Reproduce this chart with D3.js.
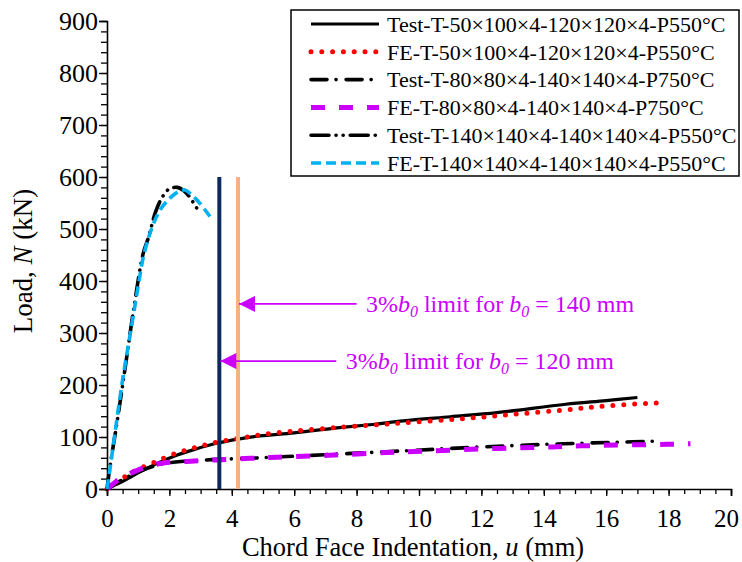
<!DOCTYPE html>
<html><head><meta charset="utf-8">
<script src="https://cdn.jsdelivr.net/npm/d3@7"></script>
<style>body{margin:0;background:#fff}svg{display:block}text{font-family:"Liberation Serif","Times New Roman",serif}</style>
</head><body><svg id="c" width="742" height="562"></svg>
<script>
// ---------- data ----------
const xTicks = [0,2,4,6,8,10,12,14,16,18,20];
const yTicks = [0,100,200,300,400,500,600,700,800,900];
const seriesNames = [
  "Test-T-50×100×4-120×120×4-P550°C",
  "FE-T-50×100×4-120×120×4-P550°C",
  "Test-T-80×80×4-140×140×4-P750°C",
  "FE-T-80×80×4-140×140×4-P750°C",
  "Test-T-140×140×4-140×140×4-P550°C",
  "FE-T-140×140×4-140×140×4-P550°C"
];
const test50 = [[0,0],[0.3,9],[0.58,17],[1.06,33],[1.49,46],[2.23,65],[2.9,78],[3.51,88],[4.2,96],[4.9,102],[6,108],[7.3,117],[8.5,124],[9.5,131],[11,139],[12.5,147],[14.7,163],[16,170],[17,176]];
const fe50 = [[0,0],[0.3,12],[0.58,24],[1.0,38],[1.51,51],[2.18,68],[2.85,80],[3.51,90],[4.21,97],[4.88,104],[5.94,111],[7.34,118],[8.73,124],[9.42,127],[11.16,134],[12.92,143],[14.65,152],[16.05,160],[17.79,166]];
const test80 = [[0,0],[0.5,18],[1.0,33],[1.5,44],[2.2,52],[3,55],[3.5,57],[4.5,59],[6,63],[8,69],[9.39,73],[11,78],[12.81,83],[14.6,87],[16.4,90],[17.6,92]];
const fe80 = [[0,0],[0.3,15],[0.6,26],[0.9,34],[1.3,43],[1.81,50],[2.55,53],[3.51,56],[4.58,59],[5.44,61],[7.15,65],[8.96,70],[9.82,72],[12.49,78],[14.3,81],[15.21,83],[17.94,86],[18.7,87]];
const test140 = [[0,0],[0.1,45],[0.3,120],[0.58,232],[0.84,340],[1.16,453],[1.32,482],[1.43,506],[1.54,530],[1.75,559],[1.97,576],[2.25,580],[2.53,570],[2.93,535]];
const fe140 = [[0,0],[0.1,40],[0.25,105],[0.5,210],[0.75,300],[1.0,390],[1.16,445],[1.38,492],[1.64,530],[1.91,553],[2.29,572],[2.5,575],[2.71,566],[2.98,549],[3.3,524]];
const limitU = [3.6, 4.2];          // 3% b0 for b0 = 120, 140 mm
const limitTop = 600;
const annoTexts = [["140 mm", 4.2, 356, 8.0, 8.3], ["120 mm", 3.6, 246, 7.35, 7.65]];

// ---------- styles ----------
const styles = [
  {color:"#000000", width:3.2, dash:null, cap:"butt"},
  {color:"#ff0000", width:5, dash:"0 10.8", cap:"round"},
  {color:"#000000", width:3.6, dash:"16 9 0.1 10", cap:"round"},
  {color:"#cc00ff", width:5, dash:"14 14", cap:"butt"},
  {color:"#000000", width:3.6, dash:"18 7 0.1 7 0.1 7", cap:"round"},
  {color:"#00b0f0", width:3.6, dash:"10 5", cap:"butt"}
];
const seriesData = [test50, fe50, test80, fe80, test140, fe140];

const svg = d3.select("#c");
const x = d3.scaleLinear().domain([0,20]).range([107,731]);
const y = d3.scaleLinear().domain([0,900]).range([489,21]);

// axes
const gx = svg.append("g").attr("transform","translate(0,489)");
gx.call(d3.axisBottom(x).tickValues(d3.range(0,20.01,0.5)).tickSize(5).tickFormat(""));
gx.call(g=>g.selectAll(".tick line").attr("stroke-width",1.3));
const gx2 = svg.append("g").attr("transform","translate(0,489)");
gx2.call(d3.axisBottom(x).tickValues(xTicks).tickSize(7).tickPadding(13).tickFormat(d3.format("d")));
gx2.selectAll(".domain").attr("stroke-width",1.6);
gx2.selectAll(".tick line").attr("stroke-width",1.3);
gx2.selectAll("text").attr("font-size",25).attr("font-family","Liberation Serif").attr("fill","#000")
  .attr("dx",d=>d===20?-5:0);

const gy = svg.append("g").attr("transform","translate(107,0)");
gy.call(d3.axisLeft(y).tickValues(d3.range(0,900.1,20)).tickSize(6).tickFormat(""));
gy.call(g=>g.selectAll(".tick line").attr("stroke-width",1.3));
const gy2 = svg.append("g").attr("transform","translate(107,0)");
gy2.call(d3.axisLeft(y).tickValues(yTicks).tickSize(8).tickPadding(1).tickFormat(d3.format("d")));
gy2.selectAll(".domain").attr("stroke-width",1.6);
gy2.selectAll(".tick line").attr("stroke-width",1.3);
gy2.selectAll("text").attr("font-size",26).attr("font-family","Liberation Serif").attr("fill","#000");

// axis titles
const xt = svg.append("text").attr("x",413).attr("y",556).attr("text-anchor","middle").attr("font-size",26.5);
xt.append("tspan").text("Chord Face Indentation, ");
xt.append("tspan").attr("font-style","italic").text("u");
xt.append("tspan").text(" (mm)");
const yt = svg.append("text").attr("transform","translate(32,261) rotate(-90)").attr("text-anchor","middle").attr("font-size",27);
yt.append("tspan").text("Load, ");
yt.append("tspan").attr("font-style","italic").text("N");
yt.append("tspan").text(" (kN)");

// curves
const line = d3.line().x(d=>x(d[0])).y(d=>y(d[1])).curve(d3.curveCatmullRom.alpha(0.5));
seriesData.forEach((s,i)=>{
  const st = styles[i];
  svg.append("path").attr("d",line(s)).attr("fill","none").attr("stroke",st.color)
    .attr("stroke-width",st.width).attr("stroke-dasharray",st.dash).attr("stroke-linecap",st.cap);
});

// limit lines
const limitColors = ["#0d2a5e","#f4b183"];
limitU.forEach((u,i)=>{
  svg.append("line").attr("x1",x(u)).attr("x2",x(u)).attr("y1",y(0)).attr("y2",y(limitTop))
    .attr("stroke",limitColors[i]).attr("stroke-width",4);
});

// annotations
const mag = "#cc00ff";
svg.append("defs").append("marker").attr("id","ah").attr("viewBox","0 0 10 10").attr("refX",10).attr("refY",5)
  .attr("markerWidth",17).attr("markerHeight",16).attr("markerUnits","userSpaceOnUse").attr("orient","auto")
  .append("path").attr("d","M0,0L10,5L0,10Z").attr("fill",mag);
annoTexts.forEach(a=>{
  const [lab,uTip,n,uStart,uText]=a;
  svg.append("line").attr("x1",x(uStart)).attr("x2",x(uTip)+1).attr("y1",y(n)).attr("y2",y(n))
    .attr("stroke",mag).attr("stroke-width",1.8).attr("marker-end","url(#ah)");
  const t = svg.append("text").attr("x",x(uText)).attr("y",y(n)+8).attr("font-size",24).attr("fill",mag);
  t.append("tspan").text("3%");
  t.append("tspan").attr("font-style","italic").text("b");
  t.append("tspan").attr("font-style","italic").attr("font-size",16).attr("dy",5).text("0");
  t.append("tspan").attr("dy",-5).text(" limit for ");
  t.append("tspan").attr("font-style","italic").text("b");
  t.append("tspan").attr("font-style","italic").attr("font-size",16).attr("dy",5).text("0");
  t.append("tspan").attr("dy",-5).text(" = "+lab);
});

// legend
const lg = svg.append("g");
lg.append("rect").attr("x",291).attr("y",10).attr("width",448).attr("height",166).attr("fill","#fff").attr("stroke","#000").attr("stroke-width",1.5);
seriesNames.forEach((nm,i)=>{
  const st = styles[i];
  const yy = 24 + i*27.8;
  lg.append("line").attr("x1",311).attr("x2",379).attr("y1",yy).attr("y2",yy).attr("stroke",st.color)
    .attr("stroke-width",st.width).attr("stroke-dasharray",st.dash).attr("stroke-linecap",st.cap);
  lg.append("text").attr("x",387).attr("y",yy).attr("dy","0.35em").attr("font-size",22).text(nm);
});
</script></body></html>
